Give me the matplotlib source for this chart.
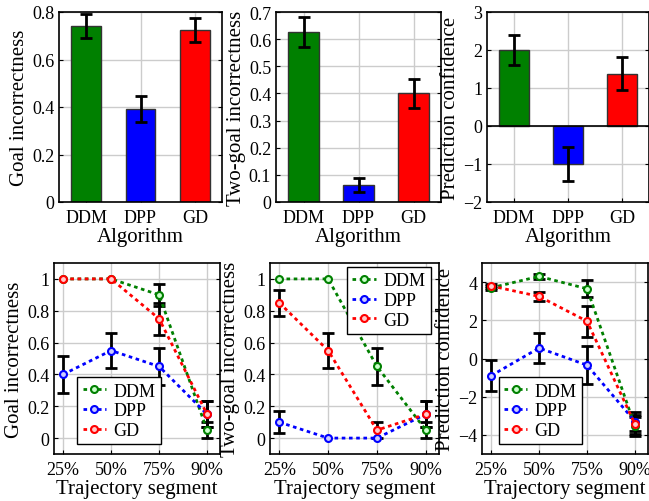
import numpy as np
import matplotlib.pyplot as plt
from matplotlib.ticker import FuncFormatter

plt.rcParams['font.family'] = ['Liberation Serif', 'DejaVu Serif']
plt.rcParams['axes.unicode_minus'] = True

algorithms = ["DDM", "DPP", "GD"]
colors = ["green", "blue", "red"]
segments = ["25%", "50%", "75%", "90%"]

# top row: bar values and errors
goal_mean = [0.74, 0.39, 0.725]
goal_err = [0.05, 0.055, 0.05]
two_mean = [0.625, 0.063, 0.40]
two_err = [0.055, 0.027, 0.055]
conf_mean = [2.0, -1.0, 1.38]
conf_err = [0.4, 0.44, 0.43]

# bottom row: per segment values and errors
seg_goal = {"DDM": [1.0, 1.0, 0.9, 0.05], "DPP": [0.4, 0.55, 0.45, 0.15], "GD": [1.0, 1.0, 0.75, 0.15]}
seg_goal_err = {"DDM": [0.0, 0.0, 0.07, 0.05], "DPP": [0.115, 0.11, 0.115, 0.08], "GD": [0.0, 0.0, 0.1, 0.08]}
seg_two = {"DDM": [1.0, 1.0, 0.45, 0.05], "DPP": [0.1, 0.0, 0.0, 0.15], "GD": [0.85, 0.55, 0.05, 0.15]}
seg_two_err = {"DDM": [0.0, 0.0, 0.115, 0.05], "DPP": [0.07, 0.0, 0.0, 0.08], "GD": [0.08, 0.11, 0.05, 0.08]}
seg_conf = {"DDM": [3.7, 4.3, 3.65, -3.55], "DPP": [-0.9, 0.55, -0.35, -3.3], "GD": [3.8, 3.25, 1.95, -3.45]}
seg_conf_err = {"DDM": [0.12, 0.15, 0.45, 0.5], "DPP": [0.8, 0.8, 1.0, 0.5], "GD": [0.1, 0.25, 0.8, 0.5]}


def fmt(v, pos):
    s = "%g" % round(v, 6)
    return s.replace("-", "\u2212")


def style(ax):
    ax.grid(True, color="#cccccc", linewidth=1)
    ax.set_axisbelow(True)
    ax.tick_params(direction="in", right=True, labelsize=13, length=3)
    ax.tick_params(axis="x", pad=5)
    ax.yaxis.set_major_formatter(FuncFormatter(fmt))
    for s in ax.spines.values():
        s.set_linewidth(1.2)


fig = plt.figure(figsize=(6.49, 5.02), dpi=100)
W, H = 649.0, 502.0
top_boxes = [(59, 13, 222, 203), (276, 13, 441, 203), (487, 13, 649, 203)]
bot_boxes = [(54, 264, 220, 455), (270, 264, 439, 455), (482, 264, 648, 455)]

def make_ax(box):
    x0, y0, x1, y1 = box
    return fig.add_axes([x0 / W, 1 - y1 / H, (x1 - x0) / W, (y1 - y0) / H])

bar_data = [(goal_mean, goal_err, "Goal incorrectness", (0, 0.8), [0, 0.2, 0.4, 0.6, 0.8]),
            (two_mean, two_err, "Two-goal incorrectness", (0, 0.7), [0, 0.1, 0.2, 0.3, 0.4, 0.5, 0.6, 0.7]),
            (conf_mean, conf_err, "Prediction confidence", (-2, 3), [-2, -1, 0, 1, 2, 3])]

for box, (m, e, lab, yl, yt) in zip(top_boxes, bar_data):
    ax = make_ax(box)
    x = np.arange(len(algorithms))
    ax.bar(x, m, width=0.55, color=colors, edgecolor="#333333", linewidth=1, zorder=2)
    ax.errorbar(x, m, yerr=e, fmt="none", ecolor="black", elinewidth=2, capsize=4, capthick=2, zorder=3)
    if yl[0] < 0:
        ax.axhline(0, color="black", linewidth=1.2, zorder=2)
    ax.set_xlim(-0.5, 2.5)
    ax.set_ylim(*yl)
    ax.set_yticks(yt)
    ax.set_xticks(x)
    ax.set_xticklabels(algorithms)
    style(ax)
    ax.set_ylabel(lab, fontsize=15, labelpad=2)
    ax.set_xlabel("Algorithm", fontsize=15, labelpad=1)

line_data = [(seg_goal, seg_goal_err, "Goal incorrectness", (-0.1, 1.1), [0, 0.2, 0.4, 0.6, 0.8, 1], "lower left", (0.14, 0.05)),
             (seg_two, seg_two_err, "Two-goal incorrectness", (-0.1, 1.1), [0, 0.2, 0.4, 0.6, 0.8, 1], "upper right", (0.95, 0.98)),
             (seg_conf, seg_conf_err, "Prediction confidence", (-5, 5), [-4, -2, 0, 2, 4], "lower left", (0.1, 0.05))]

for box, (d, de, lab, yl, yt, loc, anchor) in zip(bot_boxes, line_data):
    ax = make_ax(box)
    x = np.arange(len(segments))
    for name, c in zip(algorithms, colors):
        light = {"green": "#ccffcc", "blue": "#ccccff", "red": "#ffcccc"}[c]
        ax.plot(x, d[name], linestyle=(0, (1.3, 1.3)), linewidth=2, color=c, marker="o",
                markersize=5, markerfacecolor=light,
                markeredgecolor=c, markeredgewidth=1.5, label=name, zorder=3)
        err = np.array(de[name])
        idx = err > 0
        ax.errorbar(x[idx], np.array(d[name])[idx], yerr=err[idx], fmt="none", ecolor="black",
                    elinewidth=2, capsize=4, capthick=2, zorder=2)
    ax.set_xlim(-0.19, 3.27)
    ax.set_ylim(*yl)
    ax.set_yticks(yt)
    ax.set_xticks(x)
    ax.set_xticklabels(segments)
    style(ax)
    ax.set_ylabel(lab, fontsize=15, labelpad=2)
    ax.set_xlabel("Trajectory segment", fontsize=15, labelpad=1)
    leg = ax.legend(loc=loc, bbox_to_anchor=anchor, fontsize=13, fancybox=False, edgecolor="black",
                    framealpha=1, handlelength=1.3, handletextpad=0.4, borderpad=0.3, labelspacing=0.15,
                    borderaxespad=0)
    leg.get_frame().set_linewidth(1)

fig.savefig("out.png", dpi=100)
